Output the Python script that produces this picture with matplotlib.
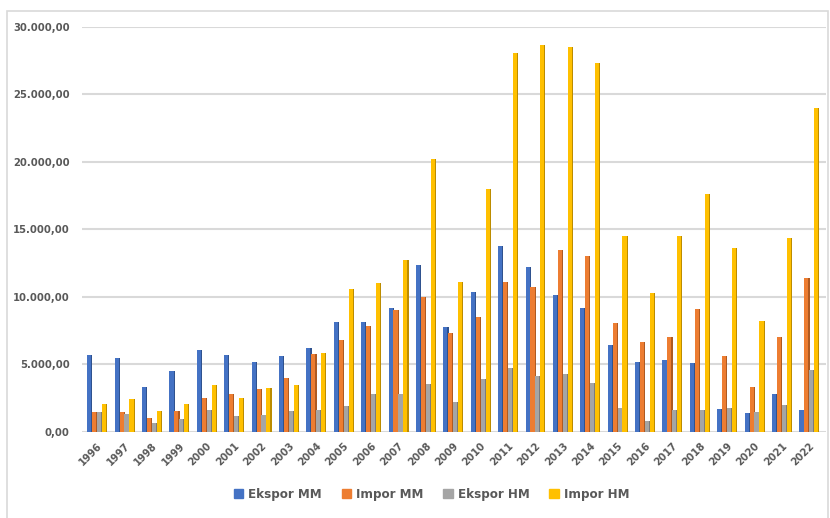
import matplotlib
matplotlib.use("Agg")
import matplotlib.pyplot as plt
import numpy as np
from matplotlib.ticker import FuncFormatter, MultipleLocator
from matplotlib.patches import Rectangle, Patch

years = [str(y) for y in range(1996, 2023)]
ekspor_mm = [5700, 5450, 3300, 4500, 6050, 5700, 5200, 5600, 6200, 8150,
             8150, 9200, 12400, 7800, 10350, 13800, 12250, 10150, 9200, 6450,
             5150, 5300, 5100, 1700, 1400, 2800, 1600]
impor_mm = [1500, 1450, 1050, 1550, 2500, 2850, 3200, 4000, 5800, 6800,
            7850, 9000, 10000, 7350, 8500, 11100, 10750, 13500, 13050, 8050,
            6700, 7000, 9100, 5650, 3350, 7000, 11400]
ekspor_hm = [1500, 1300, 700, 950, 1650, 1150, 1250, 1550, 1650, 1950,
             2850, 2850, 3550, 2200, 3950, 4750, 4150, 4300, 3600, 1750,
             850, 1650, 1650, 1800, 1500, 2000, 4600]
impor_hm = [2050, 2450, 1550, 2050, 3450, 2550, 3250, 3500, 5850, 10600,
            11050, 12750, 20200, 11100, 18000, 28100, 28650, 28550, 27350, 14500,
            10300, 14500, 17650, 13650, 8250, 14350, 24000]

series = [
    ("Ekspor MM", ekspor_mm, "#4472C4", "#2F528F"),
    ("Impor MM", impor_mm, "#ED7D31", "#AE5A21"),
    ("Ekspor HM", ekspor_hm, "#A5A5A5", "#7B7B7B"),
    ("Impor HM", impor_hm, "#FFC000", "#BC8C00"),
]

plt.rcParams["font.family"] = ["DejaVu Sans"]
plt.rcParams["font.stretch"] = "condensed"
txt = "#595959"

fig = plt.figure(figsize=(8.3, 5.18), dpi=100)
ax = fig.add_axes([0.099, 0.166, 0.896, 0.782])

x = np.arange(len(years))
offsets = [-0.27, -0.09, 0.09, 0.27]
w = 0.15
side = 0.04
for (name, vals, col, dark), off in zip(series, offsets):
    ax.bar(x + off - side / 2, vals, w, color=col, zorder=3)
    ax.bar(x + off + w / 2, vals, side, color=dark, zorder=3)

ax.set_xlim(-0.55, len(years) - 0.4)
ax.set_ylim(0, 30000)
ax.yaxis.set_major_locator(MultipleLocator(5000))
ax.yaxis.set_major_formatter(FuncFormatter(
    lambda v, p: "{:,.2f}".format(v).replace(",", "X").replace(".", ",").replace("X", ".")))
ax.grid(axis="y", color="#D9D9D9", linewidth=1.5, zorder=0)
for s in ax.spines.values():
    s.set_visible(False)
ax.tick_params(length=0, colors=txt)
ax.set_xticks(x)
ax.set_xticklabels(years, rotation=45, ha="right", va="top",
                   rotation_mode="anchor", fontsize=8, fontweight="bold", color=txt)
for lab in ax.get_yticklabels():
    lab.set_fontsize(8)
    lab.set_fontweight("bold")
    lab.set_color(txt)
ax.tick_params(axis="y", pad=9)
ax.tick_params(axis="x", pad=6)

handles = [Patch(color=c, label=n) for n, _, c, _ in series]
fig.legend(handles=handles, loc="lower center", bbox_to_anchor=(0.52, 0.01),
           ncol=4, frameon=False, fontsize=9.5, handlelength=0.7, handleheight=0.7,
           columnspacing=1.5, handletextpad=0.4, labelcolor=txt,
           prop={"size": 9.5, "weight": "bold", "stretch": "condensed"})

fig.patches.append(Rectangle((0.008, -0.01), 0.99, 0.988, transform=fig.transFigure,
                             fill=False, edgecolor="#D9D9D9", linewidth=1.2))

fig.savefig("out.png", dpi=100)
